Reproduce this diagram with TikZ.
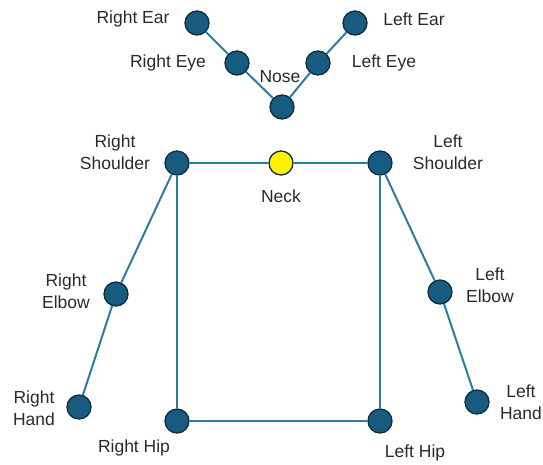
\documentclass[tikz,border=0pt]{standalone}
\usepackage{fontspec}
\setmainfont{Liberation Sans}
\definecolor{jointfill}{HTML}{175C80}
\definecolor{jointline}{HTML}{0E2E40}
\definecolor{bonecol}{HTML}{2F7CA3}
\definecolor{tagcol}{HTML}{2A2A2A}
\begin{document}
\begin{tikzpicture}[x=1pt,y=-1pt,
    joint/.style={circle,draw=jointline,fill=jointfill,line width=1.3pt,minimum size=24pt,inner sep=0pt},
    neckjoint/.style={joint,fill=yellow},
    bone/.style={draw=bonecol,line width=2pt},
    tag/.style={text=tagcol,font=\fontsize{17.5}{22}\selectfont,align=center,inner sep=0pt}]
  \useasboundingbox (0,0) rectangle (543,464);
  % head
  \node[joint] (rear) at (197,23) {};
  \node[joint] (reye) at (237,63) {};
  \node[joint] (nose) at (282,107) {};
  \node[joint] (leye) at (318,63) {};
  \node[joint] (lear) at (355,23) {};
  % trunk
  \node[joint] (rsh) at (177,163) {};
  \node[neckjoint] (neck) at (281,163) {};
  \node[joint] (lsh) at (380,163) {};
  \node[joint] (rhip) at (177,421) {};
  \node[joint] (lhip) at (380,421) {};
  % arms
  \node[joint] (relb) at (116,294) {};
  \node[joint] (rhand) at (79,407) {};
  \node[joint] (lelb) at (440,292) {};
  \node[joint] (lhand) at (477,402) {};
  % bones
  \draw[bone] (rear) -- (reye) -- (nose) -- (leye) -- (lear);
  \draw[bone] (rsh) -- (neck) -- (lsh);
  \draw[bone] (rsh) -- (rhip) -- (lhip) -- (lsh);
  \draw[bone] (rsh) -- (relb) -- (rhand);
  \draw[bone] (lsh) -- (lelb) -- (lhand);
  % labels
  \node[tag] (rear-t) at (133,19) {Right Ear};
  \node[tag] (reye-t) at (168,63) {Right Eye};
  \node[tag] (nose-t) at (280,77) {Nose};
  \node[tag] (leye-t) at (384,63) {Left Eye};
  \node[tag] (lear-t) at (414,19) {Left Ear};
  \node[tag] (rsh-t) at (115,152) {Right\\Shoulder};
  \node[tag] (neck-t) at (281,196) {Neck};
  \node[tag] (lsh-t) at (448,152) {Left\\Shoulder};
  \node[tag] (relb-t) at (66,291) {Right\\Elbow};
  \node[tag] (rhand-t) at (34,408) {Right\\Hand};
  \node[tag] (rhip-t) at (134,448) {Right Hip};
  \node[tag] (lelb-t) at (490,285) {Left\\Elbow};
  \node[tag] (lhand-t) at (521,402) {Left\\Hand};
  \node[tag] (lhip-t) at (415,453) {Left Hip};
\end{tikzpicture}
\end{document}
